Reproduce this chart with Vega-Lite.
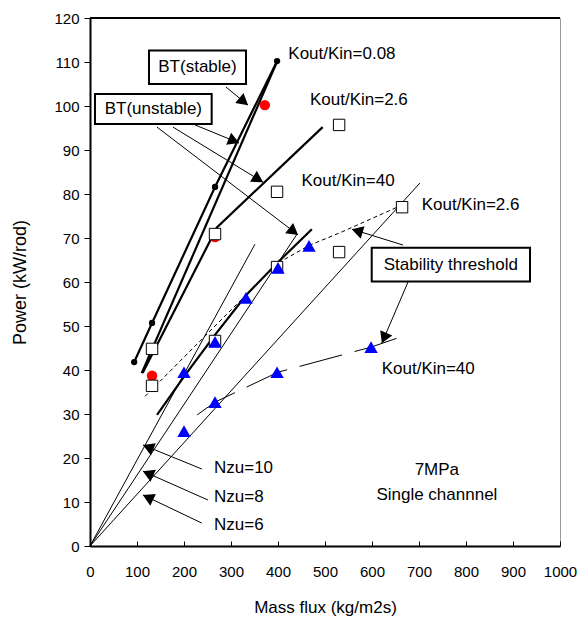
{
  "$schema": "https://vega.github.io/schema/vega-lite/v6.json",
  "width": 470,
  "height": 528,
  "autosize": {"type": "none"},
  "padding": {"left": 90, "top": 18, "right": 19, "bottom": 73},
  "background": "white",
  "config": {
    "font": "Liberation Sans",
    "view": {"stroke": "#999999", "strokeWidth": 1},
    "axis": {
      "grid": false,
      "domainColor": "black",
      "domainWidth": 2,
      "tickColor": "black",
      "tickWidth": 1,
      "labelColor": "black",
      "titleColor": "black",
      "labelFontSize": 15,
      "titleFontSize": 17,
      "titleFontWeight": "normal",
      "labelFont": "Liberation Sans",
      "titleFont": "Liberation Sans"
    }
  },
  "datasets": {
    "nzu": [
      {"s": "Nzu=10", "x": 0, "y": 0}, {"s": "Nzu=10", "x": 351, "y": 68.6},
      {"s": "Nzu=8", "x": 0, "y": 0}, {"s": "Nzu=8", "x": 440, "y": 70.8},
      {"s": "Nzu=6", "x": 0, "y": 0}, {"s": "Nzu=6", "x": 702, "y": 82.5}
    ],
    "thr26": [
      {"x": 117, "y": 34}, {"x": 266, "y": 50}, {"x": 400, "y": 64.3},
      {"x": 466, "y": 68.3}, {"x": 532, "y": 71.2}, {"x": 664, "y": 77.5}
    ],
    "thr40": [
      {"x": 228, "y": 29.8}, {"x": 266, "y": 32.7}, {"x": 400, "y": 39.5},
      {"x": 598, "y": 45.2}, {"x": 666, "y": 47.7}
    ],
    "bt": [
      {"s": "A", "o": 1, "x": 94, "y": 41.8}, {"s": "A", "o": 2, "x": 132, "y": 50.7},
      {"s": "A", "o": 3, "x": 266, "y": 81.6}, {"s": "A", "o": 4, "x": 398, "y": 110.2},
      {"s": "B", "o": 1, "x": 110, "y": 39.3}, {"s": "B", "o": 2, "x": 396, "y": 109.6},
      {"s": "C", "o": 1, "x": 112, "y": 39.3}, {"s": "C", "o": 2, "x": 270, "y": 72.4},
      {"s": "C", "o": 3, "x": 495, "y": 95.2},
      {"s": "D", "o": 1, "x": 142.6, "y": 29.8}, {"s": "D", "o": 2, "x": 200, "y": 38.5},
      {"s": "D", "o": 3, "x": 266, "y": 48}, {"s": "D", "o": 4, "x": 332, "y": 57},
      {"s": "D", "o": 5, "x": 400, "y": 64.5}, {"s": "D", "o": 6, "x": 472, "y": 72}
    ],
    "arrows": [
      {"x": 289.4, "y": 104.3, "x2": 336.2, "y2": 100.2},
      {"x": 223.4, "y": 95.7, "x2": 317, "y2": 91.6},
      {"x": 176.6, "y": 95.2, "x2": 368, "y2": 82.7},
      {"x": 142.6, "y": 95.2, "x2": 442.6, "y2": 70.7},
      {"x": 666, "y": 68.4, "x2": 557.4, "y2": 72},
      {"x": 676.6, "y": 60, "x2": 621, "y2": 46.1},
      {"x": 238, "y": 17.5, "x2": 112.8, "y2": 22.95},
      {"x": 251, "y": 10.45, "x2": 112.8, "y2": 17},
      {"x": 238, "y": 5.2, "x2": 112.8, "y2": 11.6}
    ],
    "boxes": [
      {"label": "BT(stable)", "x": 125.5, "x2": 331.9, "y": 112.6, "y2": 105},
      {"label": "BT(unstable)", "x": 10.6, "x2": 258.9, "y": 102.7, "y2": 95.9},
      {"label": "Stability threshold", "x": 599.4, "x2": 936.2, "y": 67.8, "y2": 60.1}
    ],
    "red": [
      {"x": 372, "y": 100.2}, {"x": 266, "y": 70.2}, {"x": 132, "y": 38.7}
    ],
    "squares": [
      {"x": 132, "y": 44.8}, {"x": 132, "y": 36.4}, {"x": 266, "y": 70.9},
      {"x": 266, "y": 46.6}, {"x": 398, "y": 80.5}, {"x": 398, "y": 63.4},
      {"x": 530, "y": 95.7}, {"x": 530, "y": 66.8}, {"x": 664, "y": 77}
    ],
    "triangles": [
      {"x": 200, "y": 26.1}, {"x": 266, "y": 32.7}, {"x": 200, "y": 39.5},
      {"x": 266, "y": 46.4}, {"x": 332, "y": 56.4}, {"x": 400, "y": 63.2},
      {"x": 466, "y": 68.2}, {"x": 398, "y": 39.5}, {"x": 598, "y": 45.2}
    ],
    "dots": [
      {"x": 94, "y": 41.8}, {"x": 132, "y": 50.7}, {"x": 266, "y": 81.6}, {"x": 398, "y": 110.2}
    ],
    "labelsLeft": [
      {"label": "Kout/Kin=0.08", "x": 421.9, "y": 111.9},
      {"label": "Kout/Kin=2.6", "x": 468, "y": 101.4},
      {"label": "Kout/Kin=40", "x": 450, "y": 83},
      {"label": "Kout/Kin=2.6", "x": 705.7, "y": 77.5},
      {"label": "Kout/Kin=40", "x": 620.6, "y": 40.2},
      {"label": "Nzu=10", "x": 263.8, "y": 17.7},
      {"label": "Nzu=8", "x": 263.8, "y": 11.1},
      {"label": "Nzu=6", "x": 263.8, "y": 4.8}
    ],
    "labelsCenter": [
      {"label": "7MPa", "x": 738, "y": 17.3},
      {"label": "Single channnel", "x": 738, "y": 11.6}
    ],
    "frame": [
      {"x": 0, "x2": 1000, "y": 120}
    ]
  },
  "encoding": {
    "x": {
      "field": "x", "type": "quantitative",
      "scale": {"domain": [0, 1000], "nice": false, "zero": false},
      "axis": {
        "title": "Mass flux (kg/m2s)",
        "values": [0, 100, 200, 300, 400, 500, 600, 700, 800, 900, 1000],
        "format": "d",
        "tickSize": -5,
        "labelPadding": 23,
        "titlePadding": 20,
        "labelFlush": false
      }
    },
    "y": {
      "field": "y", "type": "quantitative",
      "scale": {"domain": [0, 120], "nice": false, "zero": false},
      "axis": {
        "title": "Power (kW/rod)",
        "values": [0, 10, 20, 30, 40, 50, 60, 70, 80, 90, 100, 110, 120],
        "format": "d",
        "tickSize": 6,
        "labelPadding": 5,
        "titlePadding": 24,
        "titleFontSize": 18,
        "labelFlush": false
      }
    }
  },
  "layer": [
    {
      "data": {"name": "frame"},
      "mark": {"type": "rule", "color": "black", "strokeWidth": 2},
      "encoding": {"x2": {"field": "x2"}}
    },
    {
      "data": {"name": "nzu"},
      "mark": {"type": "line", "color": "black", "strokeWidth": 1},
      "encoding": {"detail": {"field": "s"}}
    },
    {
      "data": {"name": "thr26"},
      "mark": {"type": "line", "color": "black", "strokeWidth": 1, "strokeDash": [4, 3]},
      "encoding": {}
    },
    {
      "data": {"name": "thr40"},
      "mark": {"type": "line", "color": "black", "strokeWidth": 1, "strokeDash": [44, 13]},
      "encoding": {}
    },
    {
      "data": {"name": "bt"},
      "mark": {"type": "line", "color": "black", "strokeWidth": 2.2},
      "encoding": {"detail": {"field": "s"}, "order": {"field": "o"}}
    },
    {
      "data": {"name": "arrows"},
      "mark": {"type": "rule", "color": "black", "strokeWidth": 1},
      "encoding": {"x2": {"field": "x2"}, "y2": {"field": "y2"}}
    },
    {
      "data": {"name": "arrows"},
      "transform": [
        {"calculate": "sqrt(pow((datum.x2-datum.x)*0.47,2)+pow((datum.y2-datum.y)*4.4,2))", "as": "len"},
        {"calculate": "atan2((datum.x2-datum.x)*0.47,(datum.y2-datum.y)*4.4)*180/PI", "as": "ang"},
        {"calculate": "datum.x2-5.5*(datum.x2-datum.x)/datum.len", "as": "hx"},
        {"calculate": "datum.y2-5.5*(datum.y2-datum.y)/datum.len", "as": "hy"},
        {"calculate": "datum.hx", "as": "x"},
        {"calculate": "datum.hy", "as": "y"}
      ],
      "mark": {"type": "point", "shape": "triangle-up", "filled": true, "color": "black", "opacity": 1, "size": 170},
      "encoding": {"angle": {"field": "ang", "type": "quantitative", "scale": null}}
    },
    {
      "data": {"name": "boxes"},
      "mark": {"type": "rect", "fill": "white", "stroke": "black", "strokeWidth": 2},
      "encoding": {"x2": {"field": "x2"}, "y2": {"field": "y2"}}
    },
    {
      "data": {"name": "boxes"},
      "transform": [
        {"calculate": "(datum.x+datum.x2)/2", "as": "cx"},
        {"calculate": "(datum.y+datum.y2)/2", "as": "cy"},
        {"calculate": "datum.cx", "as": "x"},
        {"calculate": "datum.cy", "as": "y"}
      ],
      "mark": {"type": "text", "fontSize": 17, "color": "black", "align": "center", "baseline": "middle"},
      "encoding": {"text": {"field": "label"}}
    },
    {
      "data": {"name": "red"},
      "mark": {"type": "circle", "color": "#ff0000", "opacity": 1, "size": 110},
      "encoding": {}
    },
    {
      "data": {"name": "squares"},
      "mark": {"type": "square", "fill": "white", "stroke": "black", "strokeWidth": 1, "opacity": 1, "fillOpacity": 1, "size": 130},
      "encoding": {}
    },
    {
      "data": {"name": "triangles"},
      "mark": {"type": "point", "shape": "triangle-up", "filled": true, "color": "#0000ff", "opacity": 1, "size": 180},
      "encoding": {}
    },
    {
      "data": {"name": "dots"},
      "mark": {"type": "circle", "color": "black", "opacity": 1, "size": 40},
      "encoding": {}
    },
    {
      "data": {"name": "labelsLeft"},
      "mark": {"type": "text", "fontSize": 17, "color": "black", "align": "left", "baseline": "middle"},
      "encoding": {"text": {"field": "label"}}
    },
    {
      "data": {"name": "labelsCenter"},
      "mark": {"type": "text", "fontSize": 17, "color": "black", "align": "center", "baseline": "middle"},
      "encoding": {"text": {"field": "label"}}
    }
  ]
}
